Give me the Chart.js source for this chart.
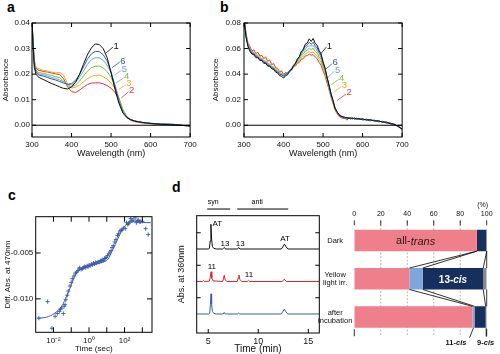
<!DOCTYPE html>
<html>
<head>
<meta charset="utf-8">
<script src="https://cdn.jsdelivr.net/npm/chart.js@4.4.0/dist/chart.umd.min.js"></script>
<style>
body{margin:0;background:#fff;width:500px;height:354px;position:relative;overflow:hidden;font-family:"Liberation Sans",Arial,sans-serif}
canvas{position:absolute}
.lbl{position:absolute;font-weight:bold;font-size:14px;line-height:14px;color:#000}
</style>
</head>
<body>
<div class="lbl" style="left:7px;top:0px">a</div>
<div class="lbl" style="left:220px;top:0px">b</div>
<div class="lbl" style="left:8px;top:188px">c</div>
<div class="lbl" style="left:172px;top:180px">d</div>
<canvas id="cA" width="200" height="162" style="left:0;top:0"></canvas>
<canvas id="cB" width="202" height="162" style="left:210px;top:0"></canvas>
<canvas id="cC" width="160" height="164" style="left:0;top:190px"></canvas>
<canvas id="cD" width="156" height="164" style="left:170px;top:190px"></canvas>
<canvas id="cE" width="185" height="164" style="left:315px;top:190px"></canvas>
<script>
// ---- panel a : spectra
var aWave = [300,303,306,310,315,320,330,340,350,360,370,380,390,400,410,420,430,440,450,460,470,480,490,500,510,520,530,540,550,560,570,580,590,600,625,650,675,700];
var aAbs1 = [.041,.030,.0225,.0200,.0190,.0185,.0178,.0170,.0163,.0157,.0150,.0144,.0142,.0150,.0168,.0198,.0238,.0275,.0302,.0318,.0316,.0300,.0265,.0205,.0140,.0085,.0048,.0030,.0021,.0016,.0013,.0011,.0009,.0007,.0004,.0002,.0000,-.0003];
var aAbs6 = [.041,.031,.0235,.0208,.0198,.0195,.0192,.0186,.0181,.0177,.0171,.0165,.0160,.0163,.0175,.0198,.0228,.0258,.0279,.0289,.0288,.0276,.0252,.0210,.0150,.0092,.0050,.0031,.0022,.0017,.0014,.0011,.0009,.0008,.0005,.0005,.0001,-.0002];
var aAbs5 = [.041,.031,.0240,.0212,.0202,.0200,.0197,.0192,.0187,.0183,.0177,.0170,.0160,.0158,.0167,.0187,.0212,.0238,.0256,.0264,.0264,.0254,.0235,.0205,.0157,.0100,.0055,.0032,.0022,.0017,.0013,.0011,.0009,.0007,.0004,.0003,.0000,-.0003];
var aAbs4 = [.041,.031,.0245,.0218,.0206,.0205,.0203,.0198,.0195,.0190,.0186,.0173,.0154,.0150,.0157,.0172,.0192,.0211,.0225,.0231,.0232,.0224,.0210,.0188,.0155,.0105,.0058,.0033,.0022,.0016,.0013,.0010,.0008,.0007,.0004,.0002,.0000,-.0003];
var aAbs3 = [.041,.032,.0255,.0228,.0222,.0220,.0214,.0212,.0207,.0205,.0206,.0196,.0162,.0146,.0148,.0157,.0170,.0182,.0191,.0195,.0196,.0190,.0180,.0165,.0145,.0108,.0062,.0034,.0022,.0016,.0012,.0010,.0008,.0006,.0004,.0002,.0000,-.0003];
var aAbs2 = [.041,.032,.0250,.0225,.0216,.0214,.0210,.0208,.0204,.0201,.0198,.0182,.0150,.0132,.0128,.0137,.0149,.0159,.0165,.0166,.0166,.0162,.0155,.0145,.0128,.0100,.0058,.0030,.0019,.0014,.0011,.0009,.0007,.0006,.0003,.0002,.0000,-.0003];
var aXTicks = [300,400,500,600,700];
var aYTicks = [0,0.01,0.02,0.03,0.04];

// ---- panel b : spectra (noisy)
var bWave = [300,305,310,315,320,325,330,335,340,345,350,355,360,365,370,375,380,385,390,395,400,405,410,415,420,425,430,435,440,445,450,455,460,465,470,475,480,485,490,495,500,505,510,515,520,525,530,535,540,545,550,555,560,565,570,575,580,585,590,595,600,610,620,630,640,650,660,670,680,690,700];
var bAbs1 = [.083,.069,.0615,.0578,.0556,.0552,.0528,.0529,.0506,.0507,.0484,.0485,.0462,.0461,.0441,.0436,.0416,.0409,.0388,.0384,.0368,.0388,.0395,.0419,.0432,.0462,.0481,.0516,.0536,.0576,.0596,.0634,.0644,.0676,.0656,.0679,.0641,.0626,.0586,.0558,.0496,.0449,.0376,.0314,.0246,.0194,.0134,.0106,.0086,.0066,.0068,.0056,.0061,.0052,.0059,.0050,.0057,.0048,.0054,.0045,.0050,.0041,.0043,.0033,.0035,.0025,.0025,.0012,.0009,-.0011,-.0030];
var bAbs6 = [.084,.070,.0625,.0589,.0562,.0559,.0537,.0534,.0514,.0512,.0492,.0490,.0470,.0467,.0448,.0444,.0424,.0418,.0398,.0396,.0382,.0399,.0404,.0428,.0439,.0469,.0486,.0519,.0536,.0572,.0588,.0619,.0628,.0649,.0634,.0649,.0621,.0607,.0571,.0546,.0488,.0444,.0374,.0316,.0248,.0198,.0138,.0110,.0081,.0077,.0062,.0065,.0054,.0060,.0051,.0058,.0048,.0055,.0046,.0052,.0042,.0047,.0036,.0040,.0027,.0031,.0017,.0018,.0001,-.0005,-.0032];
var bAbs5 = [.0845,.0705,.063,.059,.0575,.0553,.0550,.0530,.0527,.0507,.0505,.0485,.0483,.0463,.0461,.0439,.0437,.0413,.0411,.0391,.0395,.0393,.0415,.0420,.0447,.0457,.0490,.0503,.0535,.0550,.0583,.0593,.0618,.0620,.0622,.0621,.0609,.0582,.0563,.0525,.0485,.0429,.0375,.0305,.0251,.0189,.0143,.0101,.0086,.0069,.0068,.0057,.0060,.0053,.0057,.0051,.0055,.0048,.0053,.0045,.0049,.0040,.0043,.0033,.0034,.0024,.0024,.0011,.0008,-.0012,-.0033];
var bAbs4 = [.085,.071,.0632,.0597,.0569,.0565,.0545,.0543,.0522,.0519,.0500,.0497,.0479,.0474,.0457,.0451,.0433,.0425,.0407,.0403,.0390,.0403,.0408,.0427,.0437,.0461,.0475,.0501,.0515,.0543,.0557,.0581,.0587,.0604,.0591,.0603,.0577,.0567,.0533,.0513,.0461,.0425,.0357,.0305,.0237,.0191,.0131,.0105,.0075,.0075,.0059,.0064,.0051,.0061,.0048,.0059,.0046,.0056,.0044,.0053,.0041,.0047,.0036,.0039,.0028,.0030,.0018,.0017,.0002,-.0006,-.0031];
var bAbs3 = [.0855,.0715,.0638,.0601,.0578,.0571,.0552,.0549,.0530,.0525,.0508,.0503,.0488,.0479,.0465,.0456,.0440,.0429,.0414,.0406,.0396,.0403,.0410,.0423,.0436,.0453,.0470,.0489,.0505,.0525,.0542,.0557,.0566,.0576,.0569,.0573,.0557,.0541,.0515,.0489,.0447,.0405,.0349,.0291,.0233,.0181,.0131,.0098,.0077,.0069,.0061,.0059,.0054,.0056,.0051,.0054,.0050,.0051,.0047,.0049,.0044,.0044,.0039,.0036,.0031,.0027,.0021,.0014,.0005,-.0009,-.0032];
var bAbs2 = [.086,.072,.0645,.0615,.0582,.0590,.0560,.0572,.0540,.0548,.0520,.0535,.0498,.0512,.0475,.0482,.0450,.0445,.0420,.0425,.0398,.0412,.0408,.0428,.0432,.0455,.0462,.0485,.0492,.0515,.0522,.0542,.0545,.0556,.0548,.0552,.0535,.0520,.0492,.0470,.0425,.0388,.0332,.0280,.0220,.0172,.0122,.0092,.0070,.0062,.0052,.0058,.0040,.0055,.0050,.0054,.0050,.0053,.0048,.0050,.0046,.0043,.0041,.0035,.0033,.0026,.0023,.0014,.0007,-.0008,-.0030];
var bXTicks = [300,400,500,600,700];
var bYTicks = [0,0.02,0.04,0.06,0.08];

// ---- panel c : kinetics at 470 nm
var cTime = [0.0015,0.0047,0.0081,0.0123,0.0166,0.0215,0.025,0.029,0.036,0.040,0.045,0.050,0.060,0.068,0.085,0.10,0.115,0.142,0.17,0.20,0.24,0.28,0.30,0.36,0.43,0.50,0.57,0.66,0.78,0.9,1.0,1.15,1.35,1.55,1.8,2.05,2.35,2.7,3.2,3.7,4.3,4.9,5.5,6.4,7.4,8.2,9.2,11,12.9,15,17.4,20,23.4,28,33,40,46,55,63,72,85,110,129,150,167,200,224,260,302,390,465,530,600,700,810,1000,1540,2150];
var cDiff = [-0.0121,-0.0103,-0.0132,-0.0119,-0.0116,-0.01136,-0.0111,-0.0110,-0.0116,-0.0108,-0.01063,-0.0101,-0.0096,-0.00915,-0.0086,-0.0082,-0.0078,-0.0075,-0.0072,-0.0071,-0.0069,-0.00676,-0.0066,-0.0068,-0.0067,-0.0066,-0.00647,-0.0066,-0.0064,-0.0065,-0.00632,-0.0064,-0.0062,-0.0063,-0.0061,-0.0062,-0.00603,-0.0061,-0.00596,-0.0060,-0.00585,-0.0059,-0.00574,-0.0058,-0.00559,-0.0056,-0.00548,-0.0053,-0.0051,-0.0049,-0.00474,-0.0044,-0.0042,-0.0038,-0.00353,-0.0031,-0.0029,-0.0026,-0.00254,-0.0025,-0.00228,-0.00235,-0.0017,-0.0019,-0.0018,-0.0016,-0.00125,-0.0015,-0.00143,-0.00118,-0.0017,-0.0015,-0.00143,-0.0016,-0.0016,-0.00155,-0.00235,-0.0030];
var cFitTime = [0.0013,0.004,0.012,0.029,0.055,0.105,0.16,0.25,0.47,1.1,2.6,6,11.5,21,41,78,148,275,525,1660,3000];
var cFitDiff = [-0.0121,-0.0120,-0.01155,-0.0108,-0.0097,-0.0084,-0.0075,-0.00695,-0.0067,-0.0064,-0.0062,-0.0060,-0.0057,-0.0047,-0.0035,-0.0024,-0.0018,-0.0016,-0.0016,-0.0017,-0.0017];
var cXTicks = [0.01,0.1,1,10,100,1000];
var cXLabels = ['10\u207B\u00B2','','10\u2070','','10\u00B2',''];
var cYTicks = [-0.010,-0.005];

// ---- panel d : HPLC traces (offset units)
var dBlackTime = [3.85,5.0,5.12,5.2,5.27,5.34,5.42,5.55,5.8,6.45,6.55,6.62,6.72,7.9,8.0,8.07,8.17,12.3,12.45,12.62,12.78,12.95,16.1];
var dBlackAbs  = [2.0,2.0,2.02,2.25,2.76,2.3,2.08,2.02,2.0,2.0,2.03,2.05,2.0,2.0,2.03,2.04,2.0,2.0,2.06,2.15,2.07,2.0,2.0];
var dRedTime = [3.85,4.45,4.55,4.65,5.1,5.2,5.28,5.36,5.48,6.45,6.52,6.6,6.7,6.85,7.9,7.98,8.07,8.17,8.35,8.9,9.0,9.1,12.4,12.6,12.8,16.1];
var dRedAbs  = [1.0,1.0,1.03,1.0,1.01,1.12,1.3,1.1,1.02,1.0,1.08,1.19,1.05,1.0,1.0,1.1,1.2,1.06,1.0,1.0,1.03,1.0,1.0,1.07,1.0,1.0];
var dBlueTime = [3.85,5.05,5.15,5.22,5.28,5.34,5.42,5.55,5.8,6.5,6.6,6.7,7.95,8.05,8.15,12.3,12.45,12.6,12.75,12.95,16.1];
var dBlueAbs  = [0,0,0.03,0.3,0.62,0.3,0.08,0.02,0,0,0.05,0,0,0.03,0,0,0.07,0.15,0.07,0,0];
var dXTicks = [5,10,15];
var dYTicks = [0.5,1.5,2.5];

// ---- panel d : isomer composition (%)
var conditions = ['Dark', ['Yellow','light irr.'], ['after','incubation']];
var allTrans = [92.6, 41.6, 89.3];
var cis11 = [0, 10.1, 1.5];
var cis13 = [7.4, 45.7, 8.4];
var cis9 = [0, 2.6, 0.8];
var pctTicks = [0,20,40,60,80,100];

var FONT = "'Liberation Sans', Arial, Helvetica, sans-serif";
Chart.defaults.font.family = FONT;
Chart.defaults.color = '#111';
Chart.defaults.animation = false;
Chart.defaults.responsive = false;
Chart.defaults.plugins.legend.display = false;
Chart.defaults.plugins.tooltip.enabled = false;

var specColors = ['#111111','#2f5aa8','#63a9dd','#7dba3a','#f2a823','#e0392b'];
var blue = '#3b5ba6';

function spectra(wave, rows) {
  return rows.map(function (vals, i) {
    return {
      data: vals.map(function (v, j) { return {x: wave[j], y: v}; }),
      borderColor: specColors[i], borderWidth: 1, pointRadius: 0, tension: 0
    };
  });
}

function axis(o) {
  return {
    type: o.type || 'linear', position: o.pos, min: o.min, max: o.max,
    grid: {display: false, drawTicks: false}, border: {display: false},
    ticks: {display: o.labels !== false, font: {size: o.fs || 8}, padding: o.pad || 0, autoSkip: false,
            maxRotation: 0, color: '#111', callback: o.fmt},
    title: o.title ? {display: true, text: o.title, color: '#111',
                      font: {size: o.tfs, lineHeight: o.tlh || 1.2}, padding: o.tpad || 0} : {display: false},
    afterBuildTicks: function (s) { s.ticks = o.ticks.map(function (v) { return {value: v}; }); },
    afterFit: function (s) { if (s.isHorizontal()) s.height = o.size; else s.width = o.size; }
  };
}

// box with inward ticks
var frame = {
  id: 'frame',
  afterDatasetsDraw: function (chart, args, o) {
    var ctx = chart.ctx, ca = chart.chartArea, x = chart.scales.x, y = chart.scales.y, L = o.len || 4;
    ctx.save();
    ctx.strokeStyle = '#000';
    ctx.lineWidth = 1;
    if (o.zero) {
      var z = y.getPixelForValue(0);
      ctx.beginPath(); ctx.moveTo(ca.left, z); ctx.lineTo(ca.right, z); ctx.stroke();
    }
    ctx.strokeRect(ca.left, ca.top, ca.right - ca.left, ca.bottom - ca.top);
    ctx.beginPath();
    x.ticks.forEach(function (t) {
      var p = x.getPixelForValue(t.value);
      if (o.xs.indexOf('b') >= 0) { ctx.moveTo(p, ca.bottom); ctx.lineTo(p, ca.bottom - L); }
      if (o.xs.indexOf('t') >= 0) { ctx.moveTo(p, ca.top); ctx.lineTo(p, ca.top + L); }
    });
    y.ticks.forEach(function (t) {
      var p = y.getPixelForValue(t.value);
      if (o.ys.indexOf('l') >= 0) { ctx.moveTo(ca.left, p); ctx.lineTo(ca.left + L, p); }
      if (o.ys.indexOf('r') >= 0) { ctx.moveTo(ca.right, p); ctx.lineTo(ca.right - L, p); }
    });
    ctx.stroke();
    ctx.restore();
  }
};

// labels and leader lines placed in data units
var notes = {
  id: 'notes',
  afterDatasetsDraw: function (chart, args, o) {
    var ctx = chart.ctx, x = chart.scales.x, y = chart.scales.y;
    (o.items || []).forEach(function (n) {
      ctx.save();
      ctx.strokeStyle = ctx.fillStyle = n.color || '#000';
      if (n.line) {
        ctx.lineWidth = n.lw || 0.8;
        ctx.beginPath();
        ctx.moveTo(x.getPixelForValue(n.line[0]), y.getPixelForValue(n.line[1]));
        ctx.lineTo(x.getPixelForValue(n.line[2]), y.getPixelForValue(n.line[3]));
        ctx.stroke();
      }
      if (n.text) {
        ctx.font = n.font;
        ctx.textAlign = n.align || 'center';
        ctx.textBaseline = n.base || 'middle';
        ctx.fillText(n.text, x.getPixelForValue(n.at[0]) + (n.dx || 0), y.getPixelForValue(n.at[1]) + (n.dy || 0));
      }
      ctx.restore();
    });
  }
};

function specNotes(list) {
  return list.map(function (r, i) {
    return {text: r[0], color: specColors[r[1]], line: [r[2], r[3], r[4], r[5]], at: [r[4], r[5]],
            font: '9.5px ' + FONT, align: 'left', base: 'alphabetic', dx: 0.5, dy: 1.5};
  });
}

// ---- a
new Chart(document.getElementById('cA'), {
  type: 'line',
  data: {datasets: spectra(aWave, [aAbs1, aAbs6, aAbs5, aAbs4, aAbs3, aAbs2])},
  options: {
    layout: {padding: {left: 0, top: 23, right: 8, bottom: 0}},
    scales: {
      x: axis({pos: 'bottom', min: 300, max: 700, ticks: aXTicks, fmt: function (v) { return String(v); }, pad: 3.2, size: 25, title: 'Wavelength (nm)', tfs: 9, tpad: 3}),
      y: axis({pos: 'left', min: -0.0046, max: 0.04, ticks: aYTicks, fmt: function (v) { return v.toFixed(2); }, pad: 2, size: 32, title: 'Absorbance', tfs: 8, tpad: 1})
    },
    plugins: {
      frame: {xs: 'tb', ys: 'lr', len: 4, zero: true},
      notes: {items: specNotes([
        ['1', 0, 487.5, 0.0283, 505, 0.0306],
        ['6', 1, 502.5, 0.0225, 521.7, 0.0247],
        ['5', 2, 508.3, 0.0196, 525.8, 0.0214],
        ['4', 3, 513.3, 0.0166, 531.7, 0.0185],
        ['3', 4, 519.2, 0.0140, 537, 0.0158],
        ['2', 5, 525.8, 0.0107, 544.2, 0.0131]
      ])}
    }
  },
  plugins: [frame, notes]
});

// ---- b
new Chart(document.getElementById('cB'), {
  type: 'line',
  data: {datasets: spectra(bWave, [bAbs1, bAbs6, bAbs5, bAbs4, bAbs3, bAbs2])},
  options: {
    layout: {padding: {left: 0, top: 23, right: 8, bottom: 0}},
    scales: {
      x: axis({pos: 'bottom', min: 300, max: 700, ticks: bXTicks, fmt: function (v) { return String(v); }, pad: 3.2, size: 25, title: 'Wavelength (nm)', tfs: 9, tpad: 3}),
      y: axis({pos: 'left', min: -0.0092, max: 0.08, ticks: bYTicks, fmt: function (v) { return v.toFixed(2); }, pad: 3, size: 34, title: 'Absorbance', tfs: 8, tpad: 1})
    },
    plugins: {
      frame: {xs: 'tb', ys: 'lr', len: 4, zero: true},
      notes: {items: specNotes([
        ['1', 0, 494.2, 0.0559, 508.3, 0.0612],
        ['6', 1, 505.8, 0.0436, 522.5, 0.0481],
        ['5', 2, 512.5, 0.0376, 529.2, 0.0424],
        ['4', 3, 520.8, 0.0318, 539.2, 0.0358],
        ['3', 4, 527.5, 0.0261, 545.8, 0.0300],
        ['2', 5, 535.0, 0.0193, 558.3, 0.0245]
      ])}
    }
  },
  plugins: [frame, notes]
});

// ---- c
new Chart(document.getElementById('cC'), {
  type: 'scatter',
  data: {datasets: [
    {data: cFitTime.map(function (t, i) { return {x: t, y: cFitDiff[i]}; }), showLine: true, pointRadius: 0,
     borderColor: blue, borderWidth: 1, cubicInterpolationMode: 'monotone'},
    {data: cTime.map(function (t, i) { return {x: t, y: cDiff[i]}; }), showLine: false, pointStyle: 'cross',
     pointRadius: 2.1, borderColor: blue, backgroundColor: blue, borderWidth: 0.9}
  ]},
  options: {
    layout: {padding: {left: 0, top: 26.7, right: 8, bottom: 0}},
    scales: {
      x: axis({type: 'logarithmic', pos: 'bottom', min: 0.001, max: 3500, ticks: cXTicks, fmt: function (v, i) { return cXLabels[i]; }, pad: 3.4, size: 21.7, title: 'Time (sec)', tfs: 8, tpad: 0}),
      y: axis({pos: 'left', min: -0.01364, max: -0.00105, ticks: cYTicks, fmt: function (v) { return v.toFixed(3); }, pad: 2.4, size: 35.7, title: 'Diff. Abs. at 470nm', tfs: 8, tpad: 2.5})
    },
    plugins: {frame: {xs: 'tb', ys: 'lr', len: 5}}
  },
  plugins: [frame]
});

// ---- d chromatograms
var dFont = '8px ' + FONT;
new Chart(document.getElementById('cD'), {
  type: 'line',
  data: {datasets: [
    {data: dBlackTime.map(function (t, i) { return {x: t, y: dBlackAbs[i]}; }), borderColor: '#111', borderWidth: 1, pointRadius: 0},
    {data: dRedTime.map(function (t, i) { return {x: t, y: dRedAbs[i]}; }), borderColor: '#d8262a', borderWidth: 1, pointRadius: 0},
    {data: dBlueTime.map(function (t, i) { return {x: t, y: dBlueAbs[i]}; }), borderColor: '#3a5ea8', borderWidth: 1, pointRadius: 0}
  ]},
  options: {
    layout: {padding: {left: 0, top: 25.7, right: 6.7, bottom: 0}},
    scales: {
      x: axis({pos: 'bottom', min: 3.85, max: 16.1, ticks: dXTicks, fmt: function (v) { return String(v); }, fs: 9, pad: 3.3, size: 21, title: 'Time (min)', tfs: 10, tlh: 1, tpad: 0}),
      y: axis({pos: 'left', min: -0.585, max: 3.025, ticks: dYTicks, labels: false, size: 26.7, title: 'Abs. at 360nm', tfs: 9, tpad: 6.3})
    },
    plugins: {
      frame: {xs: 'b', ys: 'lr', len: 4},
      notes: {items: [
        {line: [4.9, 3.23, 7.2, 3.23], lw: 1},
        {line: [7.9, 3.23, 13.0, 3.23], lw: 1},
        {text: 'syn', at: [5.5, 3.46], font: '7px ' + FONT},
        {text: 'anti', at: [9.9, 3.46], font: '7px ' + FONT},
        {text: 'AT', at: [5.9, 2.77], font: dFont},
        {text: '13', at: [6.67, 2.15], font: dFont},
        {text: '13', at: [8.2, 2.15], font: dFont},
        {text: 'AT', at: [12.67, 2.31], font: dFont},
        {text: '11', at: [5.37, 1.46], font: dFont},
        {text: '11', at: [9.07, 1.21], font: dFont}
      ]}
    }
  },
  plugins: [frame, notes]
});

// ---- d composition bars
function mixText(ctx, parts, cx, cy, color) {
  var w = 0;
  parts.forEach(function (p) { ctx.font = p[1]; w += ctx.measureText(p[0]).width; });
  var xx = cx - w / 2;
  ctx.fillStyle = color;
  ctx.textAlign = 'left';
  ctx.textBaseline = 'middle';
  parts.forEach(function (p) { ctx.font = p[1]; ctx.fillText(p[0], xx, cy); xx += ctx.measureText(p[0]).width; });
}

var barExtras = {
  id: 'barExtras',
  beforeDatasetsDraw: function (chart) {
    var ctx = chart.ctx, ca = chart.chartArea, x = chart.scales.x;
    ctx.save();
    ctx.strokeStyle = '#8c8c8c';
    ctx.lineWidth = 0.8;
    ctx.setLineDash([1.5, 2]);
    ctx.beginPath();
    pctTicks.forEach(function (v) {
      if (v > 0 && v < 100) { var p = x.getPixelForValue(v); ctx.moveTo(p, ca.top); ctx.lineTo(p, ca.bottom); }
    });
    ctx.stroke();
    ctx.setLineDash([]);
    ctx.strokeStyle = '#000';
    ctx.beginPath();
    pctTicks.forEach(function (v) {
      var p = x.getPixelForValue(v);
      ctx.moveTo(p, ca.top - 1); ctx.lineTo(p, ca.top + 4);
      if (v === 0 || v === 100) { ctx.moveTo(p, ca.bottom - 7); ctx.lineTo(p, ca.bottom); }
    });
    ctx.stroke();
    ctx.fillStyle = '#111';
    ctx.font = '7px ' + FONT;
    ctx.textAlign = 'center';
    ctx.textBaseline = 'middle';
    ctx.fillText('(%)', x.getPixelForValue(100) - 4, ca.top - 16.5);
    ctx.restore();
  },
  afterDatasetsDraw: function (chart) {
    var ctx = chart.ctx, x = chart.scales.x, ds = chart.data.datasets;
    var bars = chart.getDatasetMeta(0).data;
    var bounds = chart.data.labels.map(function (l, c) {
      var s = 0, out = [0];
      ds.forEach(function (d) { s += d.data[c]; out.push(s); });
      return out;
    });
    ctx.save();
    ctx.strokeStyle = '#000';
    ctx.lineWidth = 0.8;
    ctx.beginPath();
    for (var c = 0; c < bars.length - 1; c++) {
      var yb = bars[c].y + bars[c].height / 2, yt = bars[c + 1].y - bars[c + 1].height / 2;
      for (var k = 1; k < bounds[c].length; k++) {
        ctx.moveTo(x.getPixelForValue(bounds[c][k]), yb);
        ctx.lineTo(x.getPixelForValue(bounds[c + 1][k]), yt);
      }
    }
    ctx.stroke();
    // segment names
    mixText(ctx, [['all-', '11px ' + FONT], ['trans', 'italic 11px ' + FONT]],
      x.getPixelForValue((bounds[0][0] + bounds[0][1]) / 2), bars[0].y + 1, '#2a1616');
    mixText(ctx, [['13-', 'bold 10px ' + FONT], ['cis', 'italic bold 10px ' + FONT]],
      x.getPixelForValue((bounds[1][2] + bounds[1][3]) / 2), bars[1].y + 1, '#ffffff');
    var last = bars.length - 1, bb = bars[last].y + bars[last].height / 2;
    var p11 = x.getPixelForValue((bounds[last][1] + bounds[last][2]) / 2);
    var p9 = x.getPixelForValue((bounds[last][3] + bounds[last][4]) / 2);
    ctx.beginPath();
    ctx.moveTo(p11, bb); ctx.lineTo(p11 - 4, bb + 10);
    ctx.moveTo(p9, bb); ctx.lineTo(p9, bb + 9);
    ctx.stroke();
    mixText(ctx, [['11-', 'bold 7.5px ' + FONT], ['cis', 'italic bold 7.5px ' + FONT]], p11 - 17.5, bb + 15, '#111');
    mixText(ctx, [['9-', 'bold 7.5px ' + FONT], ['cis', 'italic bold 7.5px ' + FONT]], p9 - 0.5, bb + 15, '#111');
    ctx.restore();
  }
};

new Chart(document.getElementById('cE'), {
  type: 'bar',
  data: {labels: conditions, datasets: [
    {data: allTrans, backgroundColor: '#ef808b'},
    {data: cis11, backgroundColor: '#7ea6dc'},
    {data: cis13, backgroundColor: '#162f5c'},
    {data: cis9, backgroundColor: '#8a8a8a'}
  ]},
  options: {
    indexAxis: 'y',
    layout: {padding: {left: 0, top: 0, right: 13.3, bottom: 17.8}},
    datasets: {bar: {categoryPercentage: 1, barPercentage: 0.56, borderWidth: 0}},
    scales: {
      x: Object.assign(axis({pos: 'top', min: 0, max: 100, ticks: pctTicks, fmt: function (v) { return String(v); }, fs: 7, pad: 2.8, size: 31.3}), {stacked: true}),
      y: {stacked: true, grid: {display: false, drawTicks: false}, border: {display: false},
          ticks: {crossAlign: 'center', padding: 2, font: {size: 7.5, lineHeight: 1.05}, color: '#111', autoSkip: false},
          afterFit: function (s) { s.width = 39.3; }}
    }
  },
  plugins: [barExtras]
});
</script>
</body>
</html>
